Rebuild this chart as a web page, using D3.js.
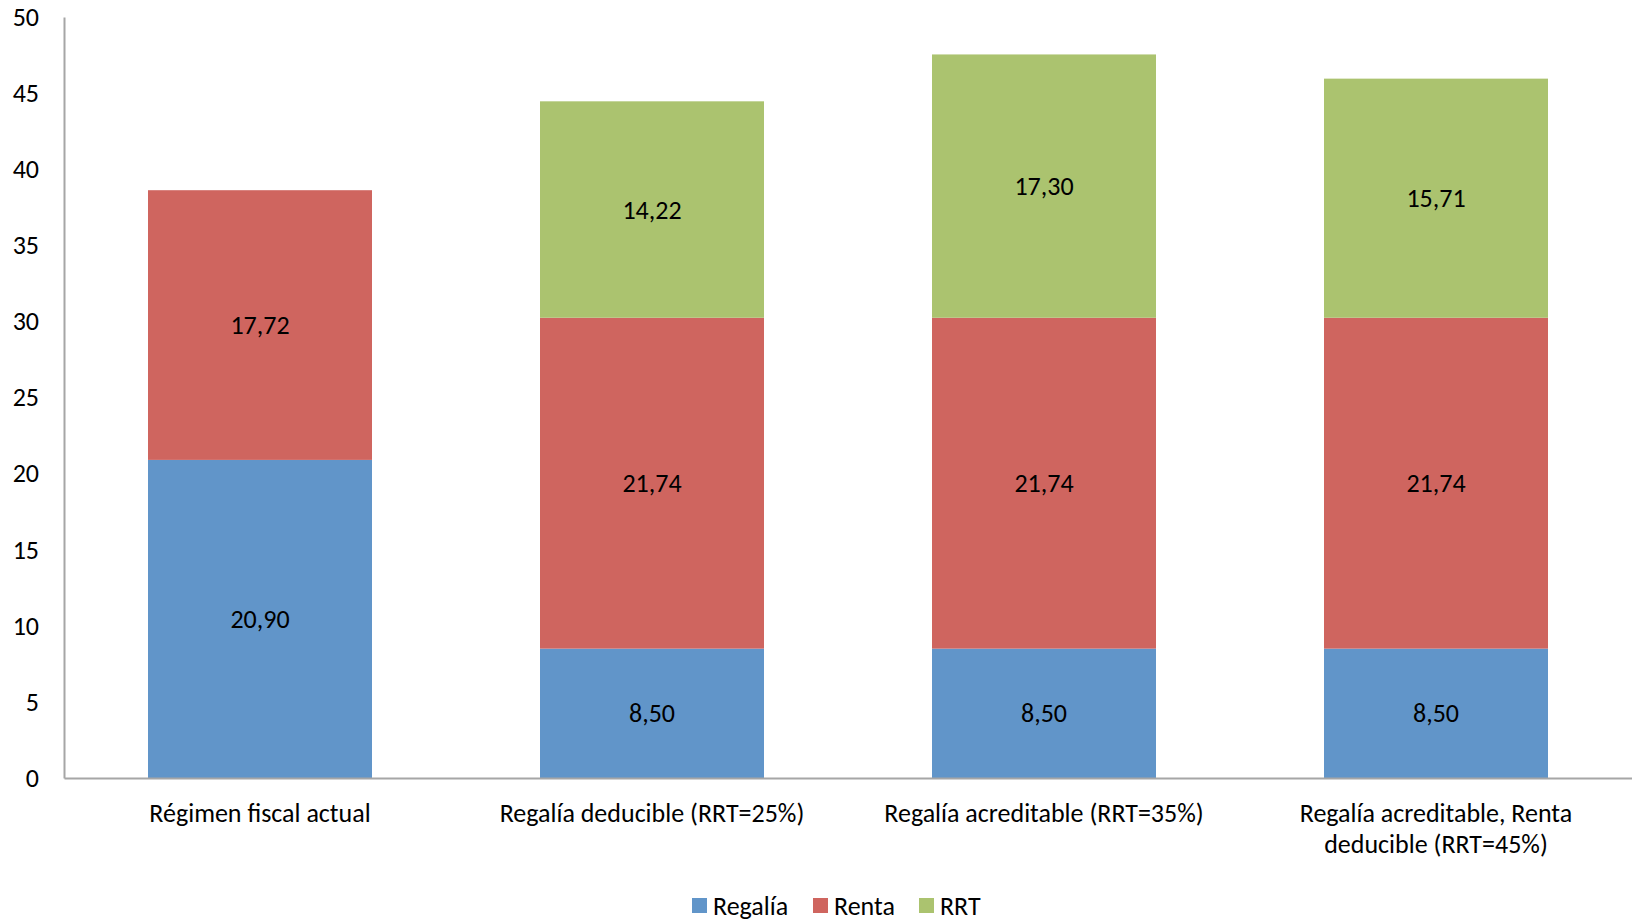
<!DOCTYPE html>
<html>
<head>
<meta charset="utf-8">
<script src="https://cdn.jsdelivr.net/npm/d3@7"></script>
<style>
  html, body { margin: 0; padding: 0; background: #fff; }
  svg { display: block; }
</style>
</head>
<body>
<div id="chart"></div>
<script>
const categories = [
  ['Régimen fiscal actual'],
  ['Regalía deducible (RRT=25%)'],
  ['Regalía acreditable (RRT=35%)'],
  ['Regalía acreditable, Renta', 'deducible (RRT=45%)']
];
const seriesNames = ['Regalía', 'Renta', 'RRT'];
const regalia = [20.90, 8.50, 8.50, 8.50];
const renta = [17.72, 21.74, 21.74, 21.74];
const rrt = [0, 14.22, 17.30, 15.71];
const yTicks = [0, 5, 10, 15, 20, 25, 30, 35, 40, 45, 50];

const colors = ['#6195c9', '#cf655f', '#abc36f'];
const width = 1632, height = 921;
const margin = { top: 17, right: 0, bottom: 143, left: 64 };
const font = 'Carlito, Lato, sans-serif';
const fs = 26;

const svg = d3.select('#chart').append('svg')
  .attr('width', width)
  .attr('height', height)
  .attr('font-family', font);

const x = d3.scaleBand()
  .domain(d3.range(categories.length))
  .range([margin.left, width - margin.right])
  .paddingInner(0.75 / 1.75)
  .paddingOuter(0.75 / 1.75 / 2);

const y = d3.scaleLinear()
  .domain([0, 50])
  .range([height - margin.bottom, margin.top]);

const rows = categories.map((c, i) => ({ i, Regalía: regalia[i], Renta: renta[i], RRT: rrt[i] }));
const stacked = d3.stack().keys(seriesNames)(rows);

const fmt = v => v.toFixed(2).replace('.', ',');

const layers = svg.append('g')
  .selectAll('g')
  .data(stacked)
  .join('g')
    .attr('fill', (d, k) => colors[k]);

layers.selectAll('rect')
  .data(d => d.filter(p => p[1] - p[0] > 0))
  .join('rect')
    .attr('x', d => x(d.data.i))
    .attr('width', x.bandwidth())
    .attr('y', d => y(d[1]))
    .attr('height', d => y(d[0]) - y(d[1]));

layers.selectAll('text')
  .data(d => d.filter(p => p[1] - p[0] > 0))
  .join('text')
    .attr('x', d => x(d.data.i) + x.bandwidth() / 2)
    .attr('y', d => y((d[0] + d[1]) / 2))
    .attr('dy', '0.35em')
    .attr('text-anchor', 'middle')
    .attr('fill', '#000')
    .attr('font-size', fs)
    .text(d => fmt(d[1] - d[0]));

// y axis
const yAxis = svg.append('g')
  .attr('transform', `translate(${margin.left},0)`)
  .call(d3.axisLeft(y).tickValues(yTicks).tickSize(0).tickPadding(25));
yAxis.select('.domain').attr('stroke', '#a6a6a6').attr('stroke-width', 2);
yAxis.selectAll('text')
  .attr('font-family', font)
  .attr('font-size', fs)
  .attr('fill', '#000');

// x axis
const xAxis = svg.append('g')
  .attr('transform', `translate(0,${y(0)})`)
  .call(d3.axisBottom(x).tickSize(0).tickFormat(''));
xAxis.select('.domain').attr('stroke', '#a6a6a6').attr('stroke-width', 2);

const catLabels = svg.append('g')
  .selectAll('text')
  .data(categories)
  .join('text')
    .attr('x', (d, i) => x(i) + x.bandwidth() / 2)
    .attr('y', y(0) + 44)
    .attr('text-anchor', 'middle')
    .attr('font-size', fs)
    .attr('fill', '#000');
catLabels.selectAll('tspan')
  .data(d => d)
  .join('tspan')
    .attr('x', function () { return this.parentNode.getAttribute('x'); })
    .attr('dy', (d, j) => j === 0 ? 0 : 31)
    .text(d => d);

// legend
const legendX = [692, 813, 919];
const legend = svg.append('g')
  .selectAll('g')
  .data(seriesNames)
  .join('g')
    .attr('transform', (d, i) => `translate(${legendX[i]},${898})`);
legend.append('rect')
  .attr('width', 15)
  .attr('height', 15)
  .attr('fill', (d, i) => colors[i]);
legend.append('text')
  .attr('x', 21)
  .attr('y', 8)
  .attr('dy', '0.35em')
  .attr('font-size', fs)
  .attr('fill', '#000')
  .text(d => d);
</script>
</body>
</html>
